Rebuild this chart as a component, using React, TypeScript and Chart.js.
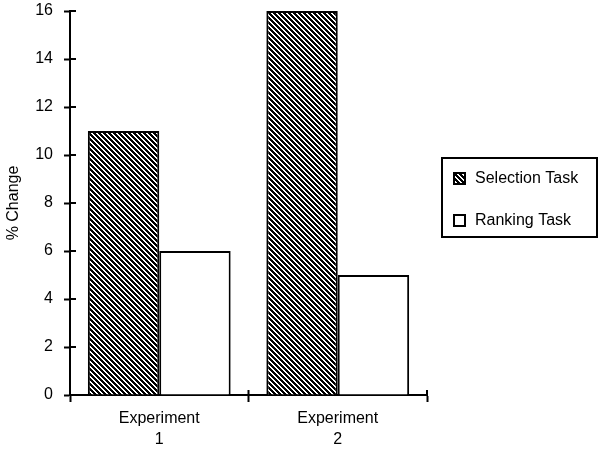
import React, { useEffect, useRef } from 'react';
import { Chart, registerables } from 'chart.js';

Chart.register(...registerables);

const categories: string[][] = [['Experiment', '1'], ['Experiment', '2']];
const seriesLabels = ['Selection Task', 'Ranking Task'];
const selectionValues = [11, 16];
const rankingValues = [6, 5];
const yMin = 0;
const yMax = 16;
const yStep = 2;
const yTitle = '% Change';

const FONT = "'Liberation Sans', Arial, Helvetica, sans-serif";

function makeHatch(): CanvasPattern | string {
  const p = 5;
  const c = document.createElement('canvas');
  c.width = p;
  c.height = p;
  const ctx = c.getContext('2d');
  if (!ctx) return '#000';
  ctx.fillStyle = '#fff';
  ctx.fillRect(0, 0, p, p);
  ctx.fillStyle = '#000';
  for (let x = 0; x < p; x++) {
    for (let y = 0; y < p; y++) {
      if (((x - y) % p + p) % p < 3) ctx.fillRect(x, y, 1, 1);
    }
  }
  const pat = ctx.createPattern(c, 'repeat');
  return pat || '#000';
}

const axisTicksPlugin = {
  id: 'innerTicks',
  afterDraw(chart: any) {
    const ctx = chart.ctx;
    const ys = chart.scales.y;
    const xs = chart.scales.x;
    const area = chart.chartArea;
    ctx.save();
    ctx.strokeStyle = '#000';
    ctx.lineWidth = 2;
    ys.ticks.forEach((t: any) => {
      const py = Math.round(ys.getPixelForValue(t.value));
      ctx.beginPath();
      ctx.moveTo(area.left, py);
      ctx.lineTo(area.left + 6, py);
      ctx.stroke();
    });
    const n = xs.ticks.length;
    for (let i = 0; i <= n; i++) {
      const px = area.left + (i * (area.right - area.left)) / n;
      ctx.beginPath();
      ctx.moveTo(px, area.bottom);
      ctx.lineTo(px, area.bottom - 5);
      ctx.stroke();
    }
    ctx.restore();
  },
};

const legendBoxPlugin = {
  id: 'legendBox',
  afterDraw(chart: any) {
    const ctx = chart.ctx;
    ctx.save();
    ctx.strokeStyle = '#000';
    ctx.lineWidth = 2;
    ctx.strokeRect(442, 158, 155, 79);
    const rows = [179, 221];
    chart.data.datasets.forEach((ds: any, i: number) => {
      const cy = rows[i];
      ctx.fillStyle = ds.backgroundColor;
      ctx.fillRect(454, cy - 6, 11, 11);
      ctx.lineWidth = 2;
      ctx.strokeStyle = '#000';
      ctx.strokeRect(454, cy - 6, 11, 11);
      ctx.fillStyle = '#000';
      ctx.font = `16px ${FONT}`;
      ctx.textBaseline = 'middle';
      ctx.textAlign = 'left';
      ctx.fillText(ds.label, 475, cy);
    });
    ctx.restore();
  },
};

export default function App() {
  const ref = useRef<HTMLCanvasElement | null>(null);

  useEffect(() => {
    document.body.style.margin = '0';
    const canvas = ref.current;
    if (!canvas) return;
    const hatch = makeHatch();
    const chart = new Chart(canvas, {
      type: 'bar',
      data: {
        labels: categories,
        datasets: [
          {
            label: seriesLabels[0],
            data: selectionValues,
            backgroundColor: hatch as any,
            borderColor: '#000',
            borderWidth: 2,
            barPercentage: 1,
            categoryPercentage: 0.8,
          },
          {
            label: seriesLabels[1],
            data: rankingValues,
            backgroundColor: '#fff',
            borderColor: '#000',
            borderWidth: 2,
            barPercentage: 1,
            categoryPercentage: 0.8,
          },
        ],
      },
      options: {
        animation: false,
        responsive: false,
        maintainAspectRatio: false,
        layout: { padding: { left: 0, right: 173, top: 11, bottom: 0 } },
        plugins: {
          legend: { display: false },
          tooltip: { enabled: false },
        },
        scales: {
          x: {
            grid: {
              display: true,
              drawOnChartArea: false,
              drawTicks: true,
              tickLength: 7,
              tickWidth: 2,
              tickColor: '#000',
              offset: true,
            },
            border: { display: true, color: '#000', width: 2 },
            ticks: {
              color: '#000',
              font: { family: FONT, size: 16, lineHeight: 1.3 },
              padding: 6,
              maxRotation: 0,
            },
            afterFit(scale: any) {
              scale.height = 58;
              scale.paddingLeft = 0;
              scale.paddingRight = 0;
            },
          },
          y: {
            min: yMin,
            max: yMax,
            grid: {
              display: true,
              drawOnChartArea: false,
              drawTicks: true,
              tickLength: 6,
              tickWidth: 2,
              tickColor: '#000',
            },
            border: { display: true, color: '#000', width: 2 },
            ticks: {
              stepSize: yStep,
              color: '#000',
              font: { family: FONT, size: 16 },
              padding: 11,
            },
            title: {
              display: true,
              text: yTitle,
              color: '#000',
              font: { family: FONT, size: 16 },
              padding: { top: 4, bottom: 0 },
            },
            afterFit(scale: any) {
              scale.width = 70;
              scale.paddingTop = 0;
              scale.paddingBottom = 0;
            },
          },
        },
      },
      plugins: [axisTicksPlugin, legendBoxPlugin],
    });
    return () => chart.destroy();
  }, []);

  return (
    <div style={{ width: 600, height: 453 }}>
      <canvas ref={ref} width={600} height={453} style={{ display: 'block' }} />
    </div>
  );
}
